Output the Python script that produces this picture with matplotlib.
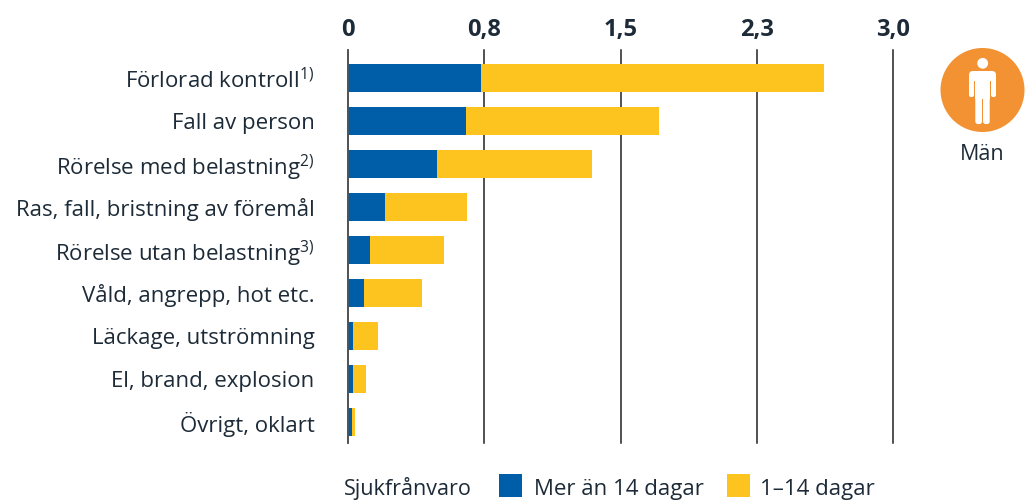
import numpy as np
import matplotlib
matplotlib.use('Agg')
import matplotlib.pyplot as plt
from matplotlib.patches import Circle, Rectangle, FancyBboxPatch

categories = ['Förlorad kontroll$^{1)}$', 'Fall av person', 'Rörelse med belastning$^{2)}$',
              'Ras, fall, bristning av föremål', 'Rörelse utan belastning$^{3)}$',
              'Våld, angrepp, hot etc.', 'Läckage, utströmning', 'El, brand, explosion', 'Övrigt, oklart']
over_14 = [0.732, 0.65, 0.49, 0.204, 0.121, 0.088, 0.028, 0.028, 0.022]
days_1_14 = [1.888, 1.06, 0.853, 0.451, 0.407, 0.319, 0.137, 0.071, 0.017]
ticks = [0, 0.75, 1.5, 2.25, 3.0]
tick_labels = ['0', '0,8', '1,5', '2,3', '3,0']

BLUE = '#005ea8'
YELLOW = '#fdc41f'
ORANGE = '#f29233'
TEXT = '#1d2b38'

plt.rcParams['font.family'] = ['Open Sans', 'DejaVu Sans']
plt.rcParams['mathtext.default'] = 'regular'

W, H = 1027, 500
fig = plt.figure(figsize=(W / 100, H / 100), dpi=100)

# axes i pixelmått: x 348-893, y 50-443
ax = fig.add_axes([348 / W, 1 - 443 / H, 545 / W, 393 / H])
y = np.arange(len(categories))
ax.barh(y, over_14, height=0.65, color=BLUE, zorder=3)
ax.barh(y, days_1_14, height=0.65, left=over_14, color=YELLOW, zorder=3)
ax.set_xlim(0, 3.0)
ax.set_ylim(8 + 21 / 43, -28 / 43)
ax.set_xticks(ticks)
ax.set_xticklabels(tick_labels, fontsize=17, fontweight='bold', color=TEXT)
ax.xaxis.tick_top()
ax.tick_params(axis='x', length=0, pad=6)
ax.xaxis.grid(True, color='#222222', linewidth=1.1, zorder=1)
for line in ax.get_xgridlines():
    line.set_clip_on(False)
ax.set_yticks(y)
ax.set_yticklabels(categories, fontsize=16, color=TEXT)
ax.tick_params(axis='y', length=0, pad=24)
for s in ax.spines.values():
    s.set_visible(False)
ax.spines['left'].set_visible(True)
ax.spines['left'].set_color('#555555')
ax.spines['left'].set_linewidth(1.1)
ax.spines['left'].set_zorder(4)
ax.patch.set_alpha(0)

# overlay för ikon och legend, koordinater i pixlar
ov = fig.add_axes([0, 0, 1, 1])
ov.set_xlim(0, W)
ov.set_ylim(H, 0)
ov.axis('off')
ov.patch.set_alpha(0)

ov.add_patch(Circle((982.5, 90), 42, color=ORANGE, lw=0))
ov.add_patch(Circle((982.7, 63.3), 5.4, color='white', lw=0))
ov.add_patch(FancyBboxPatch((969, 71), 27, 10, boxstyle='round,pad=0,rounding_size=4', color='white', lw=0))
ov.add_patch(FancyBboxPatch((969, 75), 5, 22, boxstyle='round,pad=0,rounding_size=2', color='white', lw=0))
ov.add_patch(FancyBboxPatch((991, 75), 5, 22, boxstyle='round,pad=0,rounding_size=2', color='white', lw=0))
ov.add_patch(Rectangle((975.3, 75), 14.4, 24, color='white', lw=0))
ov.add_patch(FancyBboxPatch((975.3, 92), 6.7, 32, boxstyle='round,pad=0,rounding_size=2.5', color='white', lw=0))
ov.add_patch(FancyBboxPatch((983, 92), 6.7, 32, boxstyle='round,pad=0,rounding_size=2.5', color='white', lw=0))
ov.text(982.5, 155, 'Män', fontsize=15.5, color=TEXT, ha='center', va='center')

ov.text(344, 495, 'Sjukfrånvaro', fontsize=15.5, color=TEXT, ha='left', va='baseline')
ov.add_patch(Rectangle((499, 474), 23, 23, color=BLUE, lw=0))
ov.text(534, 495, 'Mer än 14 dagar', fontsize=16, color=TEXT, ha='left', va='baseline')
ov.add_patch(Rectangle((727, 474), 23, 23, color=YELLOW, lw=0))
ov.text(760, 495, '1–14 dagar', fontsize=16, color=TEXT, ha='left', va='baseline')

fig.savefig('out.png', dpi=100)
